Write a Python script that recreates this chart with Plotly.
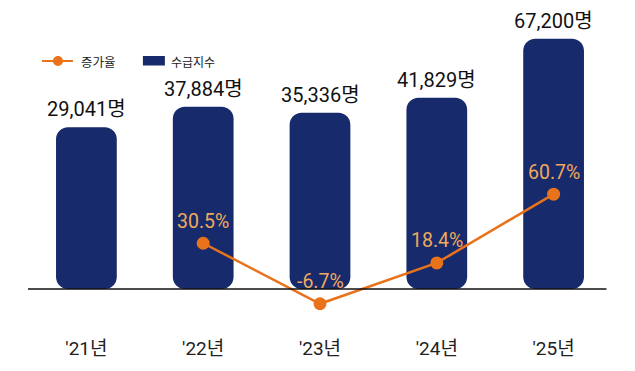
import plotly.graph_objects as go

categories = ["'21년", "'22년", "'23년", "'24년", "'25년"]
supply = [29041, 37884, 35336, 41829, 67200]
growth = [None, 30.5, -6.7, 18.4, 60.7]
supply_labels = ["29,041명", "37,884명", "35,336명", "41,829명", "67,200명"]
growth_labels = [None, "30.5%", "-6.7%", "18.4%", "60.7%"]
legend_names = ["증가율", "수급지수"]

NAVY = "#172A6B"
ORANGE = "#E8731A"
LABEL_ORANGE = "#EFA95C"
NUMFONT = "Roboto, Noto Sans CJK KR, sans-serif"
CJK = "Noto Sans CJK KR, sans-serif"

BAR_BASE = -40725
Y1_RANGE = [-60570, 79640]
Y2_RANGE = [-25.9, 173.9]

# page offset (default body margin) and plot area in page pixels
OFF = 8
PL, PR, PT, PB = 28, 612.5, 10, 335
W, H = 635, 371


def px(x):
    return (x - PL) / (PR - PL)


def py(y):
    return (PB - y) / (PB - PT)


fig = go.Figure()
fig.add_trace(go.Bar(
    x=categories, y=[v - BAR_BASE for v in supply], base=BAR_BASE,
    marker=dict(color=NAVY, line=dict(width=0)), width=0.52,
    name=legend_names[1], yaxis="y", hoverinfo="skip", showlegend=False,
))
fig.add_trace(go.Scatter(
    x=categories, y=growth, mode="lines+markers",
    line=dict(color=ORANGE, width=2.5),
    marker=dict(color=ORANGE, size=13),
    name=legend_names[0], yaxis="y2", connectgaps=False, showlegend=False,
))

annotations = []
for c, v, t in zip(categories, supply, supply_labels):
    annotations.append(dict(x=c, y=v, xref="x", yref="y", text=t, showarrow=False,
                            yanchor="middle", yshift=18,
                            font=dict(family=NUMFONT, size=20, color="#111111")))
for c, g, t in zip(categories, growth, growth_labels):
    if g is None:
        continue
    annotations.append(dict(x=c, y=g, xref="x", yref="y2", text=t, showarrow=False,
                            yanchor="middle", yshift=22,
                            font=dict(family=NUMFONT, size=19.5, color=LABEL_ORANGE)))

# custom legend
annotations.append(dict(x=px(79), y=py(61), xref="paper", yref="paper", text=legend_names[0],
                        showarrow=False, xanchor="left", yanchor="middle",
                        font=dict(family=CJK, size=12.5, color="#222222")))
annotations.append(dict(x=px(169), y=py(61), xref="paper", yref="paper", text=legend_names[1],
                        showarrow=False, xanchor="left", yanchor="middle",
                        font=dict(family=CJK, size=12, color="#222222")))
shapes = [
    dict(type="line", xref="paper", yref="y", x0=0.0, x1=px(607),
         y0=BAR_BASE, y1=BAR_BASE, line=dict(color="#111111", width=1.5)),
    dict(type="line", xref="paper", yref="paper", x0=px(42), x1=px(73), y0=py(61), y1=py(61),
         line=dict(color=ORANGE, width=2)),
    dict(type="circle", xref="paper", yref="paper", x0=px(53), x1=px(63), y0=py(66), y1=py(56),
         fillcolor=ORANGE, line=dict(width=0)),
    dict(type="rect", xref="paper", yref="paper", x0=px(143), x1=px(165), y0=py(65.5), y1=py(56),
         fillcolor=NAVY, line=dict(width=0)),
]

fig.update_layout(
    width=W, height=H,
    margin=dict(l=PL - OFF, r=W + OFF - PR, t=PT - OFF, b=H + OFF - PB),
    paper_bgcolor="white", plot_bgcolor="white",
    barcornerradius=12,
    showlegend=False,
    xaxis=dict(showgrid=False, zeroline=False, showline=False, ticks="",
               tickfont=dict(family=NUMFONT, size=19, color="#222222"),
               range=[-0.5, 4.5], automargin=False),
    yaxis=dict(range=Y1_RANGE, visible=False, showgrid=False, zeroline=False),
    yaxis2=dict(range=Y2_RANGE, overlaying="y", visible=False, showgrid=False, zeroline=False),
    annotations=annotations,
    shapes=shapes,
)

fig.write_html("out.html")
